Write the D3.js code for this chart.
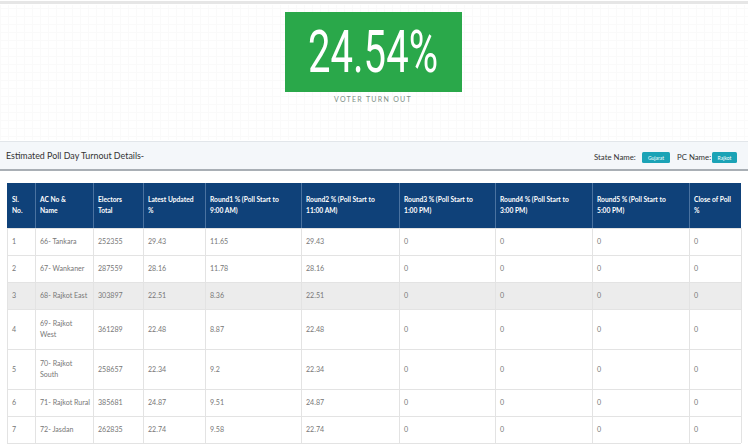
<!DOCTYPE html>
<html>
<head>
<meta charset="utf-8">
<script src="https://cdn.jsdelivr.net/npm/d3@7"></script>
<style>
  html, body { margin: 0; padding: 0; background: #fff; }
  svg { display: block; font-family: "Lato", "Noto Sans", sans-serif; }
</style>
</head>
<body>
<svg id="page"></svg>
<script>
// Page size
const width = 748;
const height = 448;

// Data
const turnout = "24.54%";
const stateName = "Gujarat";
const pcName = "Rajkot";

const headers = [
  ["Sl.", "No."],
  ["AC No &", "Name"],
  ["Electors", "Total"],
  ["Latest Updated", "%"],
  ["Round1 % (Poll Start to", "9:00 AM)"],
  ["Round2 % (Poll Start to", "11:00 AM)"],
  ["Round3 % (Poll Start to", "1:00 PM)"],
  ["Round4 % (Poll Start to", "3:00 PM)"],
  ["Round5 % (Poll Start to", "5:00 PM)"],
  ["Close of Poll", "%"]
];

const slNo = [1, 2, 3, 4, 5, 6, 7];
const acNames = [
  ["66- Tankara"],
  ["67- Wankaner"],
  ["68- Rajkot East"],
  ["69- Rajkot", "West"],
  ["70- Rajkot", "South"],
  ["71- Rajkot Rural"],
  ["72- Jasdan"]
];
const electors = [252355, 287559, 303897, 361289, 258657, 385681, 262835];
const latest = [29.43, 28.16, 22.51, 22.48, 22.34, 24.87, 22.74];
const round1 = [11.65, 11.78, 8.36, 8.87, 9.2, 9.51, 9.58];
const round2 = [29.43, 28.16, 22.51, 22.48, 22.34, 24.87, 22.74];
const round3 = [0, 0, 0, 0, 0, 0, 0];
const round4 = [0, 0, 0, 0, 0, 0, 0];
const round5 = [0, 0, 0, 0, 0, 0, 0];
const closeOfPoll = [0, 0, 0, 0, 0, 0, 0];
const highlightRow = 2; // the grey (hovered) row

// Table layout
const colWidths = [28, 58, 50, 62, 96, 98, 96, 97, 97, 52];
const tableLeft = 7;
const headTop = 183;
const headHeight = 45;
const lineRow = 27;   // row height for one line
const extraLine = 13; // added for each wrapped line

const svg = d3.select("#page")
  .attr("width", width)
  .attr("height", height);

// very faint grid behind the top card
const grid = svg.append("g");
grid.selectAll("line.v")
  .data(d3.range(0, width, 8))
  .enter().append("line")
  .attr("x1", d => d + 0.5).attr("x2", d => d + 0.5)
  .attr("y1", 5).attr("y2", 140)
  .attr("stroke", "#fafafa");
grid.selectAll("line.h")
  .data(d3.range(8, 140, 8))
  .enter().append("line")
  .attr("x1", 0).attr("x2", width)
  .attr("y1", d => d + 0.5).attr("y2", d => d + 0.5)
  .attr("stroke", "#fafafa");

svg.append("rect")
  .attr("x", 0).attr("y", 1)
  .attr("width", width).attr("height", 3)
  .attr("fill", "#e6e6e6");

// turnout card
svg.append("rect")
  .attr("x", 285).attr("y", 12)
  .attr("width", 177).attr("height", 80)
  .attr("fill", "#2aa84a");

svg.append("text")
  .attr("x", 373).attr("y", 72)
  .attr("text-anchor", "middle")
  .attr("font-family", "Roboto, sans-serif")
  .attr("font-weight", 400)
  .attr("font-size", 59)
  .attr("textLength", 130)
  .attr("lengthAdjust", "spacingAndGlyphs")
  .attr("fill", "#fff")
  .text(turnout);

svg.append("text")
  .attr("x", 373).attr("y", 102)
  .attr("text-anchor", "middle")
  .attr("font-size", 7)
  .attr("letter-spacing", 1.3)
  .attr("fill", "#7d8f86")
  .text("VOTER TURN OUT");

// details header bar
svg.append("rect")
  .attr("x", 0).attr("y", 141)
  .attr("width", width).attr("height", 28)
  .attr("fill", "#f4f7fa");
svg.append("line")
  .attr("x1", 0).attr("x2", width)
  .attr("y1", 141.5).attr("y2", 141.5)
  .attr("stroke", "#e2e6ea");
svg.append("rect")
  .attr("x", 0).attr("y", 169)
  .attr("width", width).attr("height", 2)
  .attr("fill", "#a9afb5");

svg.append("text")
  .attr("x", 6).attr("y", 159)
  .attr("font-size", 8.9)
  .attr("fill", "#333")
  .text("Estimated Poll Day Turnout Details-");

const badges = [
  { label: "State Name:", value: stateName, x: 594, bx: 642, bw: 28 },
  { label: "PC Name:", value: pcName, x: 677, bx: 712, bw: 25 }
];
const badge = svg.selectAll("g.badge")
  .data(badges)
  .enter().append("g");
badge.append("text")
  .attr("x", d => d.x).attr("y", 160)
  .attr("font-size", 7.8)
  .attr("fill", "#333")
  .text(d => d.label);
badge.append("rect")
  .attr("x", d => d.bx).attr("y", 152)
  .attr("width", d => d.bw).attr("height", 11)
  .attr("rx", 1.5)
  .attr("fill", "#1ba3b6");
badge.append("text")
  .attr("x", d => d.bx + d.bw / 2).attr("y", 159.5)
  .attr("text-anchor", "middle")
  .attr("font-size", 5)
  .attr("fill", "#fff")
  .text(d => d.value);

// build rows
const rows = slNo.map((s, i) => [
  [String(s)],
  acNames[i],
  [String(electors[i])],
  [String(latest[i])],
  [String(round1[i])],
  [String(round2[i])],
  [String(round3[i])],
  [String(round4[i])],
  [String(round5[i])],
  [String(closeOfPoll[i])]
]);

const colX = [tableLeft, ...d3.cumsum(colWidths).map(w => tableLeft + w)];
const tableRight = colX[colX.length - 1];

const rowHeights = rows.map(r => lineRow + (d3.max(r, c => c.length) - 1) * extraLine);
const rowY = [headTop + headHeight, ...d3.cumsum(rowHeights).map(h => headTop + headHeight + h)];
const tableBottom = rowY[rowY.length - 1];

// header
svg.append("rect")
  .attr("x", tableLeft).attr("y", headTop)
  .attr("width", tableRight - tableLeft).attr("height", headHeight)
  .attr("fill", "#0f4179");

svg.selectAll("line.hsep")
  .data(colX.slice(1, -1))
  .enter().append("line")
  .attr("x1", d => d + 0.5).attr("x2", d => d + 0.5)
  .attr("y1", headTop).attr("y2", headTop + headHeight)
  .attr("stroke", "#4a72a0");

const headCell = svg.selectAll("g.head")
  .data(headers)
  .enter().append("g");
headCell.selectAll("text")
  .data((d, i) => d.map((t, j) => ({ t, j, i })))
  .enter().append("text")
  .attr("x", d => colX[d.i] + 5)
  .attr("y", d => headTop + 19 + d.j * 10.5)
  .attr("font-size", 6.7)
  .attr("font-weight", 700)
  .attr("fill", "#fff")
  .text(d => d.t);

// body rows
const row = svg.selectAll("g.row")
  .data(rows)
  .enter().append("g");

row.append("rect")
  .attr("x", tableLeft)
  .attr("y", (d, i) => rowY[i])
  .attr("width", tableRight - tableLeft)
  .attr("height", (d, i) => rowHeights[i])
  .attr("fill", (d, i) => i === highlightRow ? "#ececec" : "#fff");

row.selectAll("text")
  .data((d, i) => d.flatMap((c, k) => c.map((t, j) => ({ t, j, n: c.length, k, i }))))
  .enter().append("text")
  .attr("x", d => colX[d.k] + 5)
  .attr("y", d => {
    const mid = rowY[d.i] + rowHeights[d.i] / 2;
    return mid + 2.5 + (d.j - (d.n - 1) / 2) * 11.5;
  })
  .attr("font-size", 7.1)
  .attr("fill", "#777")
  .text(d => d.t);

// body grid lines
svg.selectAll("line.rsep")
  .data(rowY)
  .enter().append("line")
  .attr("x1", tableLeft).attr("x2", tableRight)
  .attr("y1", d => d + 0.5).attr("y2", d => d + 0.5)
  .attr("stroke", "#e3e3e3");

svg.selectAll("line.csep")
  .data(colX)
  .enter().append("line")
  .attr("x1", d => d + 0.5).attr("x2", d => d + 0.5)
  .attr("y1", headTop + headHeight).attr("y2", tableBottom)
  .attr("stroke", "#e3e3e3");
</script>
</body>
</html>
